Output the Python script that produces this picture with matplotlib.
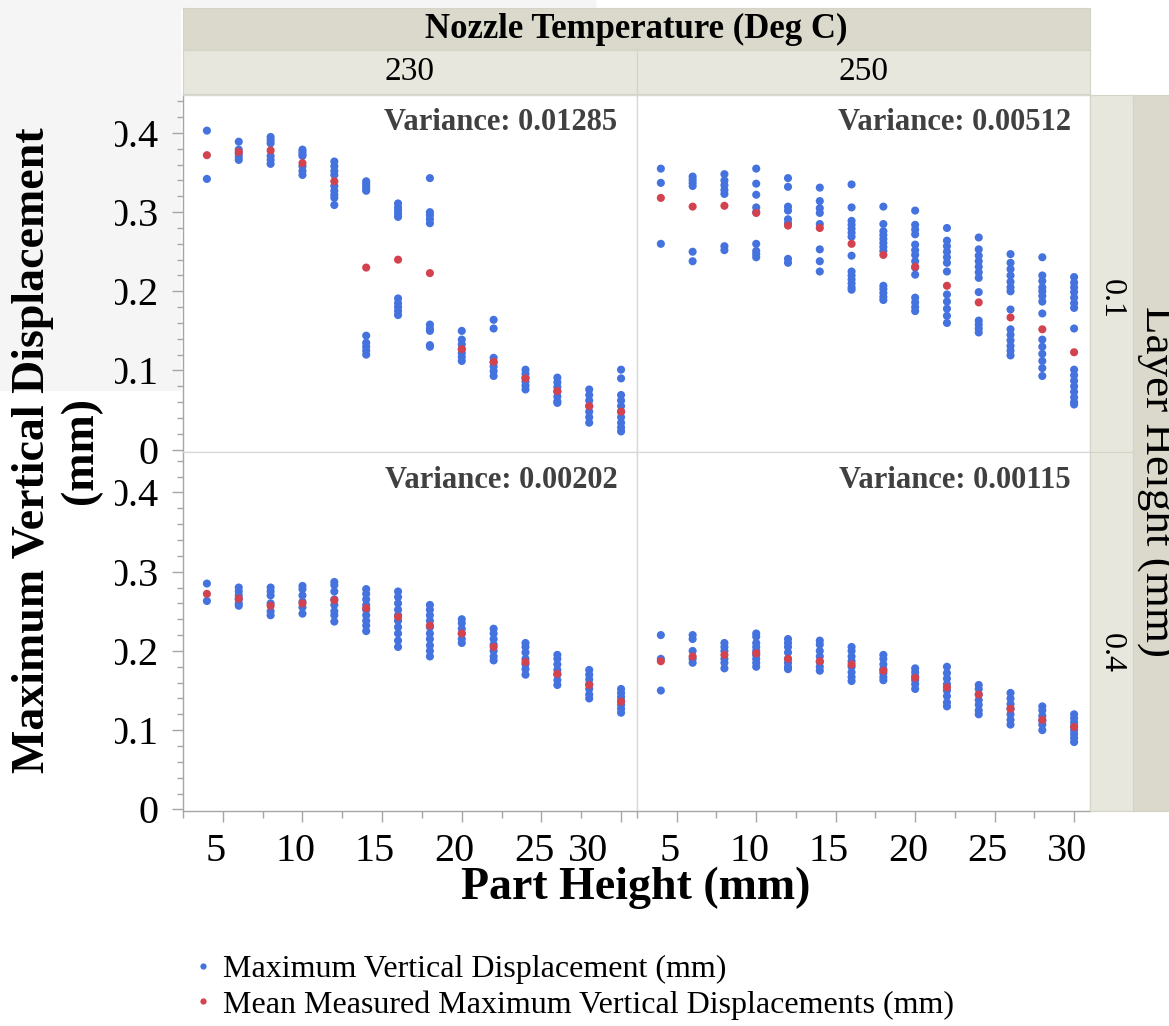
import matplotlib
matplotlib.use("Agg")
import matplotlib.pyplot as plt
import numpy as np
from matplotlib.patches import Rectangle
from matplotlib.lines import Line2D
from matplotlib.ticker import FixedLocator, MultipleLocator
from matplotlib.transforms import Bbox, TransformedBbox, ScaledTranslation

plt.rcParams['font.family'] = ['Liberation Serif', 'DejaVu Serif']

# ---------------- data ----------------
heights = [4, 6, 8, 10, 12, 14, 16, 18, 20, 22, 24, 26, 28, 30]

# Nozzle 230 C, layer 0.1 mm
disp_230_01 = [
    [0.403, 0.342],
    [0.389, 0.379, 0.374, 0.370, 0.366],
    [0.395, 0.391, 0.387, 0.371, 0.366, 0.361],
    [0.379, 0.376, 0.373, 0.371, 0.358, 0.352, 0.347],
    [0.364, 0.358, 0.352, 0.347, 0.333, 0.327, 0.322, 0.318, 0.309],
    [0.339, 0.336, 0.333, 0.330, 0.327, 0.144, 0.135, 0.130, 0.125, 0.120],
    [0.311, 0.306, 0.302, 0.298, 0.294, 0.191, 0.185, 0.180, 0.175, 0.170],
    [0.343, 0.300, 0.296, 0.291, 0.286, 0.158, 0.153, 0.150, 0.132, 0.130],
    [0.150, 0.139, 0.133, 0.127, 0.122, 0.117, 0.112],
    [0.164, 0.153, 0.116, 0.110, 0.105, 0.099, 0.093],
    [0.101, 0.096, 0.091, 0.086, 0.081, 0.076],
    [0.091, 0.085, 0.079, 0.073, 0.067, 0.061, 0.059],
    [0.076, 0.069, 0.062, 0.055, 0.048, 0.041, 0.034],
    [0.101, 0.090, 0.069, 0.062, 0.055, 0.048, 0.041, 0.034, 0.028, 0.023],
]
mean_230_01 = [0.372, 0.376, 0.378, 0.362, 0.339, 0.230, 0.240, 0.223,
               0.127, 0.111, 0.090, 0.074, 0.055, 0.048]

# Nozzle 250 C, layer 0.1 mm
disp_250_01 = [
    [0.355, 0.337, 0.260],
    [0.345, 0.341, 0.337, 0.333, 0.250, 0.238],
    [0.348, 0.340, 0.334, 0.328, 0.323, 0.257, 0.252],
    [0.355, 0.336, 0.322, 0.306, 0.300, 0.260, 0.251, 0.247, 0.243],
    [0.343, 0.332, 0.307, 0.302, 0.291, 0.286, 0.241, 0.236],
    [0.331, 0.314, 0.305, 0.299, 0.285, 0.253, 0.238, 0.225],
    [0.335, 0.306, 0.289, 0.284, 0.279, 0.274, 0.269, 0.245,
     0.225, 0.220, 0.215, 0.210, 0.205, 0.202],
    [0.307, 0.285, 0.276, 0.271, 0.266, 0.261, 0.256, 0.251,
     0.207, 0.203, 0.198, 0.193, 0.189],
    [0.302, 0.284, 0.278, 0.272, 0.259, 0.252, 0.246, 0.238,
     0.230, 0.221, 0.192, 0.186, 0.180, 0.175],
    [0.280, 0.264, 0.257, 0.250, 0.243, 0.236, 0.225, 0.196,
     0.187, 0.178, 0.169, 0.160],
    [0.268, 0.253, 0.245, 0.238, 0.231, 0.224, 0.217, 0.199,
     0.163, 0.158, 0.153, 0.148],
    [0.247, 0.236, 0.228, 0.220, 0.212, 0.205, 0.200, 0.177,
     0.152, 0.145, 0.138, 0.131, 0.125, 0.119],
    [0.243, 0.220, 0.213, 0.205, 0.200, 0.194, 0.187, 0.172,
     0.139, 0.130, 0.121, 0.112, 0.103, 0.093],
    [0.218, 0.211, 0.205, 0.199, 0.192, 0.185, 0.179, 0.153,
     0.101, 0.094, 0.087, 0.080, 0.073, 0.066, 0.060, 0.057],
]
mean_250_01 = [0.318, 0.307, 0.308, 0.299, 0.283, 0.280, 0.260, 0.246,
               0.231, 0.207, 0.186, 0.167, 0.152, 0.123]

# Nozzle 230 C, layer 0.4 mm
disp_230_04 = [
    [0.285, 0.263],
    [0.280, 0.275, 0.270, 0.265, 0.260, 0.257],
    [0.280, 0.275, 0.270, 0.260, 0.250, 0.245],
    [0.282, 0.278, 0.270, 0.262, 0.255, 0.247],
    [0.287, 0.283, 0.275, 0.265, 0.258, 0.250, 0.245, 0.237],
    [0.278, 0.272, 0.265, 0.258, 0.252, 0.245, 0.238, 0.232, 0.225],
    [0.275, 0.268, 0.260, 0.252, 0.245, 0.238, 0.230, 0.222, 0.213, 0.205],
    [0.258, 0.252, 0.245, 0.238, 0.230, 0.222, 0.215, 0.207, 0.200, 0.193],
    [0.240, 0.235, 0.228, 0.222, 0.215, 0.210],
    [0.228, 0.222, 0.215, 0.208, 0.200, 0.193, 0.188],
    [0.210, 0.205, 0.198, 0.190, 0.183, 0.177, 0.170],
    [0.195, 0.190, 0.183, 0.176, 0.170, 0.163, 0.157],
    [0.176, 0.170, 0.164, 0.158, 0.152, 0.145, 0.140],
    [0.152, 0.147, 0.142, 0.137, 0.132, 0.127, 0.122],
]
mean_230_04 = [0.272, 0.266, 0.257, 0.260, 0.264, 0.254, 0.243, 0.232,
               0.222, 0.205, 0.186, 0.171, 0.157, 0.136]

# Nozzle 250 C, layer 0.4 mm
disp_250_04 = [
    [0.220, 0.190, 0.150],
    [0.220, 0.215, 0.200, 0.190, 0.185],
    [0.210, 0.205, 0.200, 0.190, 0.185, 0.178],
    [0.222, 0.218, 0.210, 0.205, 0.200, 0.195, 0.190, 0.185, 0.180],
    [0.215, 0.210, 0.205, 0.198, 0.190, 0.185, 0.180, 0.177],
    [0.213, 0.208, 0.200, 0.193, 0.186, 0.180, 0.175],
    [0.205, 0.200, 0.193, 0.187, 0.180, 0.173, 0.167, 0.162],
    [0.195, 0.190, 0.183, 0.177, 0.172, 0.167, 0.163],
    [0.178, 0.173, 0.168, 0.163, 0.158, 0.152],
    [0.180, 0.172, 0.165, 0.158, 0.150, 0.143, 0.135, 0.130],
    [0.157, 0.152, 0.145, 0.138, 0.132, 0.125, 0.120],
    [0.147, 0.140, 0.133, 0.127, 0.120, 0.113, 0.107],
    [0.130, 0.125, 0.118, 0.112, 0.107, 0.100],
    [0.120, 0.115, 0.110, 0.105, 0.100, 0.095, 0.090, 0.085],
]
mean_250_04 = [0.187, 0.193, 0.195, 0.197, 0.190, 0.187, 0.183, 0.175,
               0.166, 0.154, 0.145, 0.127, 0.113, 0.104]

nozzle_temps = ["230", "250"]
layer_heights = ["0.1", "0.4"]
variances = [["Variance: 0.01285", "Variance: 0.00512"],
             ["Variance: 0.00202", "Variance: 0.00115"]]
y_ticks = [0, 0.1, 0.2, 0.3, 0.4]
y_tick_labels = ["0", "0.1", "0.2", "0.3", "0.4"]
x_ticks = [5, 10, 15, 20, 25, 30]
x_tick_labels = ["5", "10", "15", "20", "25", "30"]

# ---------------- figure ----------------
W, H = 1169, 1026
fig = plt.figure(figsize=(W / 100, H / 100), dpi=100)
fig.patch.set_facecolor("white")


def fbox(left, top, right, bottom):
    return [left / W, 1 - bottom / H, (right - left) / W, (bottom - top) / H]


# pale backdrop band in the upper-left corner (kept beneath the axes)
fig.patches.append(Rectangle((0, 1 - 390 / H), 180 / W, 390 / H,
                             transform=fig.transFigure, color="#f5f5f5", zorder=-5))
fig.patches.append(Rectangle((0, 1 - 8 / H), 595 / W, 8 / H,
                             transform=fig.transFigure, color="#f5f5f5", zorder=-5))

BLUE = "#4472de"
RED = "#d3424f"
DARK_STRIP = "#dad9cb"
LIGHT_STRIP = "#e7e7de"
EDGE = "#d9d9d9"
AXIS_GRAY = "#a6a6a6"

panel_data = [[(disp_230_01, mean_230_01), (disp_250_01, mean_250_01)],
              [(disp_230_04, mean_230_04), (disp_250_04, mean_250_04)]]
cols_px = [(183, 637), (637, 1090)]
rows_px = [(95, 452), (452, 811)]
ylims = [(-0.003, 0.448), (-0.002, 0.451)]

# y tick labels are cut on their left side by this clip region
clip_box = TransformedBbox(Bbox([[115 / W, 0], [1, 1]]), fig.transFigure)

for r in range(2):
    for c in range(2):
        ax = fig.add_axes(fbox(cols_px[c][0], rows_px[r][0], cols_px[c][1], rows_px[r][1]))
        disp, means = panel_data[r][c]
        xs = np.concatenate([[h] * len(v) for h, v in zip(heights, disp)])
        ys = np.concatenate(disp)
        ax.scatter(xs, ys, s=34, color=BLUE, edgecolors="none", zorder=2)
        ax.scatter(heights, means, s=34, color=RED, edgecolors="none", zorder=3)
        ax.set_xlim(2.5, 31.0)
        ax.set_ylim(*ylims[r])
        for s in ax.spines.values():
            s.set_color(EDGE)
            s.set_linewidth(1.0)
        ax.text(0.957, 0.923 if r == 0 else 0.921, variances[r][c], transform=ax.transAxes,
                ha="right", va="center", fontsize=22, fontweight="bold", color="#404040")

        # y axis only on the left column
        if c == 0:
            ax.spines["left"].set_color(AXIS_GRAY)
            ax.yaxis.set_major_locator(FixedLocator(y_ticks))
            ax.yaxis.set_minor_locator(MultipleLocator(0.02))
            ax.set_yticklabels(y_tick_labels)
            ax.tick_params(axis="y", which="major", length=8, width=1, color=AXIS_GRAY,
                           labelsize=29, pad=9.5)
            ax.tick_params(axis="y", which="minor", length=4, width=1, color=AXIS_GRAY)
            for t in ax.yaxis.get_major_ticks():
                t.label1.set_clip_on(True)
                t.label1.set_clip_box(clip_box)
        else:
            ax.set_yticks([])
            ax.tick_params(axis="y", which="both", left=False, labelleft=False)

        # x axis only on the bottom row
        if r == 1:
            ax.spines["bottom"].set_color(AXIS_GRAY)
            ax.xaxis.set_major_locator(FixedLocator(x_ticks))
            ax.xaxis.set_minor_locator(FixedLocator([2.5, 7.5, 12.5, 17.5, 22.5, 27.5]))
            ax.set_xticklabels(x_tick_labels)
            ax.tick_params(axis="x", which="major", length=8, width=1, color=AXIS_GRAY,
                           labelsize=29, pad=8)
            ax.tick_params(axis="x", which="minor", length=5, width=1, color=AXIS_GRAY)
            for i, t in enumerate(ax.xaxis.get_major_ticks()):
                dx = -7
                if c == 0 and i == len(x_ticks) - 1:
                    dx = -33
                t.label1.set_transform(t.label1.get_transform() +
                                       ScaledTranslation(dx / 100, 0, fig.dpi_scale_trans))
        else:
            ax.set_xticks([])
            ax.tick_params(axis="x", which="both", bottom=False, labelbottom=False)


def strip(box, color, label, size, weight="normal", rotation=0, xoff=0.5, yoff=0.5):
    sax = fig.add_axes(fbox(*box))
    sax.set_facecolor(color)
    sax.set_xticks([])
    sax.set_yticks([])
    for s in sax.spines.values():
        s.set_color("#d3d3c6")
    sax.text(xoff, yoff, label, transform=sax.transAxes, ha="center", va="center",
             fontsize=size, fontweight=weight, rotation=rotation, clip_on=False)
    return sax


strip((183, 8, 1090, 50), DARK_STRIP, "Nozzle Temperature (Deg C)", 25, "bold")
strip((183, 50, 637, 94), LIGHT_STRIP, nozzle_temps[0], 24)
strip((637, 50, 1090, 94), LIGHT_STRIP, nozzle_temps[1], 24)
strip((1090, 95, 1133, 452), LIGHT_STRIP, layer_heights[0], 23, rotation=270, yoff=0.43)
strip((1090, 452, 1133, 811), LIGHT_STRIP, layer_heights[1], 23, rotation=270, yoff=0.44)
strip((1133, 95, 1175, 811), DARK_STRIP, "Layer Height (mm)", 32.5, rotation=270,
      xoff=0.58, yoff=0.46)

fig.text(57 / W, 1 - 450 / H, "Maximum Vertical Displacement\n(mm)", rotation=90,
         ha="center", va="center", fontsize=33, fontweight="bold", linespacing=1.2,
         multialignment="center")
fig.text(636 / W, 1 - 888 / H, "Part Height (mm)", ha="center", va="center",
         fontsize=33, fontweight="bold")

handles = [Line2D([], [], linestyle="none", marker="o", markersize=4.5, color=BLUE,
                  markeredgewidth=0),
           Line2D([], [], linestyle="none", marker="o", markersize=4.5, color=RED,
                  markeredgewidth=0)]
fig.legend(handles, ["Maximum Vertical Displacement (mm)",
                     "Mean Measured Maximum Vertical Displacements (mm)"],
           loc="upper left", bbox_to_anchor=(193 / W, 1 - 955 / H), frameon=False,
           fontsize=23, handlelength=0.6, handletextpad=0.35, labelspacing=0.18,
           borderaxespad=0, borderpad=0)

fig.savefig("out.png", dpi=100)
